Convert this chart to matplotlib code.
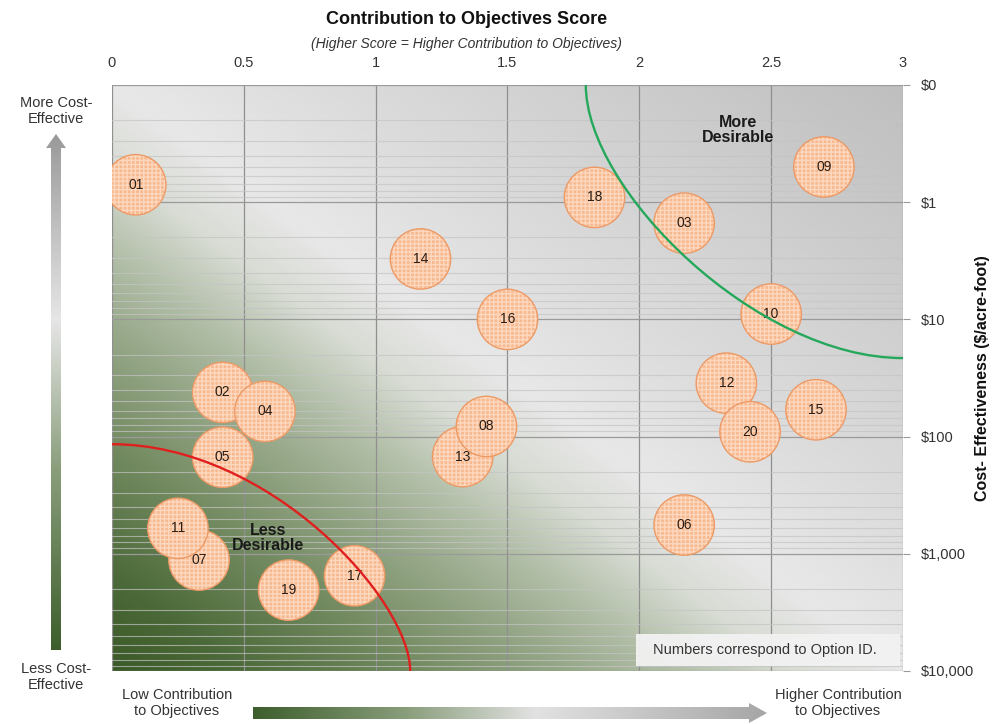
import numpy as np
import matplotlib
matplotlib.use("Agg")
import matplotlib.pyplot as plt
from matplotlib.colors import LinearSegmentedColormap
from matplotlib.patches import Polygon, PathPatch, Rectangle
from matplotlib.path import Path
from matplotlib.ticker import FixedLocator, LogLocator, NullFormatter

# ---- data -------------------------------------------------------------
option_ids = ["01", "02", "03", "04", "05", "06", "07", "08", "09", "10",
              "11", "12", "13", "14", "15", "16", "17", "18", "19", "20"]
contribution_score = [0.09, 0.42, 2.17, 0.58, 0.42, 2.17, 0.33, 1.42, 2.70, 2.50,
                      0.25, 2.33, 1.33, 1.17, 2.67, 1.50, 0.92, 1.83, 0.67, 2.42]
cost_per_acre_foot = [0.71, 42, 1.51, 61, 150, 568, 1130, 82, 0.50, 9.0,
                      606, 35, 148, 3.05, 59, 10, 1540, 0.91, 2040, 91]

x_ticks = [0, 0.5, 1, 1.5, 2, 2.5, 3]
x_tick_labels = ["0", "0.5", "1", "1.5", "2", "2.5", "3"]
y_ticks = [0.1, 1, 10, 100, 1000, 10000]
y_tick_labels = [r"\$0", r"\$1", r"\$10", r"\$100", r"\$1,000", r"\$10,000"]

# ---- style ------------------------------------------------------------
FONT = ["Liberation Sans Narrow", "Liberation Sans", "DejaVu Sans"]
plt.rcParams["font.family"] = FONT
plt.rcParams["hatch.linewidth"] = 1.0
TXT = "#333333"

W, H = 992, 724
fig = plt.figure(figsize=(W / 100, H / 100), dpi=100)
fig.patch.set_facecolor("white")

# overlay in pixel coordinates for decorations outside the plot area
ov = fig.add_axes([0, 0, 1, 1])
ov.set_xlim(0, W)
ov.set_ylim(H, 0)
ov.axis("off")
ov.patch.set_alpha(0)


def gradient_arrow(verts, extent, colors, horizontal):
    poly = Polygon(verts, closed=True, facecolor="none", edgecolor="none")
    ov.add_patch(poly)
    cmap = LinearSegmentedColormap.from_list("arr", colors)
    g = np.linspace(0, 1, 256)
    grad = g.reshape(1, -1) if horizontal else g.reshape(-1, 1)
    im = ov.imshow(grad, extent=extent, cmap=cmap, aspect="auto",
                   origin="lower" if horizontal else "upper",
                   interpolation="bilinear")
    im.set_clip_path(poly)


# vertical arrow (bottom dark green -> top gray)
cx, top_tip, bot = 56, 134, 650
sw, hw, hl = 5, 10, 14
vverts = [(cx - sw, bot), (cx - sw, top_tip + hl), (cx - hw, top_tip + hl),
          (cx, top_tip), (cx + hw, top_tip + hl), (cx + sw, top_tip + hl),
          (cx + sw, bot)]
gradient_arrow(vverts, [cx - hw, cx + hw, bot, top_tip],
               [(0.0, "#9a9a9a"), (0.36, "#e6e6e6"), (0.65, "#8a9e7c"),
                (1.0, "#3d5e2c")], horizontal=False)

# horizontal arrow (left dark green -> right gray)
cy, x0, tip = 713, 253, 767
sh, hh, hl2 = 6, 10, 18
hverts = [(x0, cy - sh), (tip - hl2, cy - sh), (tip - hl2, cy - hh), (tip, cy),
          (tip - hl2, cy + hh), (tip - hl2, cy + sh), (x0, cy + sh)]
gradient_arrow(hverts, [x0, tip, cy + hh, cy - hh],
               [(0.0, "#3d5e2c"), (0.3, "#8a9e7c"), (0.55, "#e2e2e2"),
                (1.0, "#a6a6a6")], horizontal=True)

ov.text(56, 111, "More Cost-\nEffective", ha="center", va="center",
        fontsize=10.5, color=TXT, linespacing=1.15)
ov.text(56, 677, "Less Cost-\nEffective", ha="center", va="center",
        fontsize=10.5, color=TXT, linespacing=1.15)
ov.text(177, 703, "Low Contribution\nto Objectives", ha="center", va="center",
        fontsize=10.5, color=TXT, linespacing=1.15)
ov.text(838, 703, "Higher Contribution\nto Objectives", ha="center", va="center",
        fontsize=10.5, color=TXT, linespacing=1.15)
ov.text(467, 19, "Contribution to Objectives Score", ha="center", va="center",
        fontsize=13, fontweight="bold", color="#111111")
ov.text(466, 44, "(Higher Score = Higher Contribution to Objectives)",
        ha="center", va="center", fontsize=10, style="italic", color=TXT)
ov.text(983, 378, "Cost- Effectiveness (\\$/acre-foot)", ha="center",
        va="center", rotation=90, fontsize=11.5, fontweight="bold",
        color="#111111")

# ---- main plot ----------------------------------------------------------
L, R, T, B = 112, 903, 85, 671
ax = fig.add_axes([L / W, 1 - B / H, (R - L) / W, (B - T) / H])
ax.set_xscale("linear")
ax.set_yscale("log")
ax.set_xlim(0, 3)
ax.set_ylim(10000, 0.1)
ax.set_autoscale_on(False)

# background gradient: dark green at lower left, light band, gray upper right
bg_cmap = LinearSegmentedColormap.from_list("bg", [
    (0.00, "#3a5a27"), (0.08, "#4c6a39"), (0.18, "#6f875c"),
    (0.28, "#93a585"), (0.36, "#b4c0aa"), (0.43, "#d8dcd4"),
    (0.50, "#e8e8e8"), (0.62, "#dddddd"), (1.00, "#bfbfbf")])
uu, vv = np.meshgrid(np.linspace(0, 1, 400), np.linspace(0, 1, 300))
ax.imshow(0.5 * uu + 0.5 * vv, extent=[0, 1, 0, 1], transform=ax.transAxes,
          origin="lower", cmap=bg_cmap, vmin=0, vmax=1, aspect="auto",
          interpolation="bilinear", zorder=0)

for s in ax.spines.values():
    s.set_visible(False)

ax.xaxis.set_major_locator(FixedLocator(x_ticks))
ax.set_xticklabels(x_tick_labels)
ax.xaxis.tick_top()
ax.tick_params(axis="x", length=0, pad=11, labelsize=10.5, labelcolor=TXT)

ax.yaxis.set_major_locator(FixedLocator(y_ticks))
ax.set_yticklabels(y_tick_labels)
ax.yaxis.set_minor_locator(LogLocator(base=10, subs=np.arange(2, 10)))
ax.yaxis.set_minor_formatter(NullFormatter())
ax.yaxis.tick_right()
ax.tick_params(axis="y", which="major", length=5, width=0.8, color="#999999",
               pad=8, labelsize=10.5, labelcolor=TXT)
ax.tick_params(axis="y", which="minor", length=0)

ax.grid(True, axis="x", which="major", color="#8f8f8f", lw=0.9, zorder=1)
ax.grid(True, axis="y", which="major", color="#9a9a9a", lw=0.9, zorder=1)
ax.grid(True, axis="y", which="minor", color="#c4c4c4", lw=0.8, alpha=0.7,
        zorder=1)
ax.set_axisbelow(True)

# bubbles (option 08 sits on top of 13)
draw_order = [i for i in range(len(option_ids)) if option_ids[i] != "08"]
draw_order.append(option_ids.index("08"))
size = 43.5 ** 2
for k, i in enumerate(draw_order):
    xs, ys, lab = contribution_score[i], cost_per_acre_foot[i], option_ids[i]
    z = 3 + k * 0.01
    ax.scatter([xs], [ys], s=size, facecolor="#f8b98f", edgecolor="none",
               zorder=z)
    ax.scatter([xs], [ys], s=size, facecolor="none", edgecolor="#fcd8c0",
               linewidths=0, hatch="++++", zorder=z + 0.002)
    ax.scatter([xs], [ys], s=size, facecolor="none", edgecolor="#ec9a66",
               linewidths=1.0, zorder=z + 0.004)
    ax.text(xs, ys, lab, ha="center", va="center", fontsize=10,
            family=["Liberation Sans", "DejaVu Sans"], color="#2a1c12",
            zorder=z + 0.006)

# threshold curves
C = [Path.MOVETO, Path.CURVE4, Path.CURVE4, Path.CURVE4]
green = Path([(0.599, 1.0), (0.599, 0.821), (0.815, 0.534), (1.0, 0.534)], C)
red = Path([(0.0, 0.387), (0.20, 0.387), (0.377, 0.12), (0.377, 0.0)], C)
ax.add_patch(PathPatch(green, transform=ax.transAxes, fill=False,
                       edgecolor="#25a85c", lw=1.7, zorder=5, clip_on=False))
ax.add_patch(PathPatch(red, transform=ax.transAxes, fill=False,
                       edgecolor="#e01f1f", lw=1.7, zorder=5, clip_on=False))

ax.text(0.791, 0.923, "More\nDesirable", transform=ax.transAxes, ha="center",
        va="center", fontsize=11.5, fontweight="bold", color="#1a1a1a",
        linespacing=1.05, zorder=6)
ax.text(0.197, 0.227, "Less\nDesirable", transform=ax.transAxes, ha="center",
        va="center", fontsize=11.5, fontweight="bold", color="#1a1a1a",
        linespacing=1.05, zorder=6)

ax.add_patch(Rectangle((0.662, 0.0085), 0.334, 0.0545, transform=ax.transAxes,
                       facecolor="#f2f2f2", edgecolor="none", alpha=0.95,
                       zorder=6))
ax.text(0.825, 0.036, "Numbers correspond to Option ID.", transform=ax.transAxes,
        ha="center", va="center", fontsize=10.5, color=TXT, zorder=7)

fig.savefig("out.png", dpi=100)
